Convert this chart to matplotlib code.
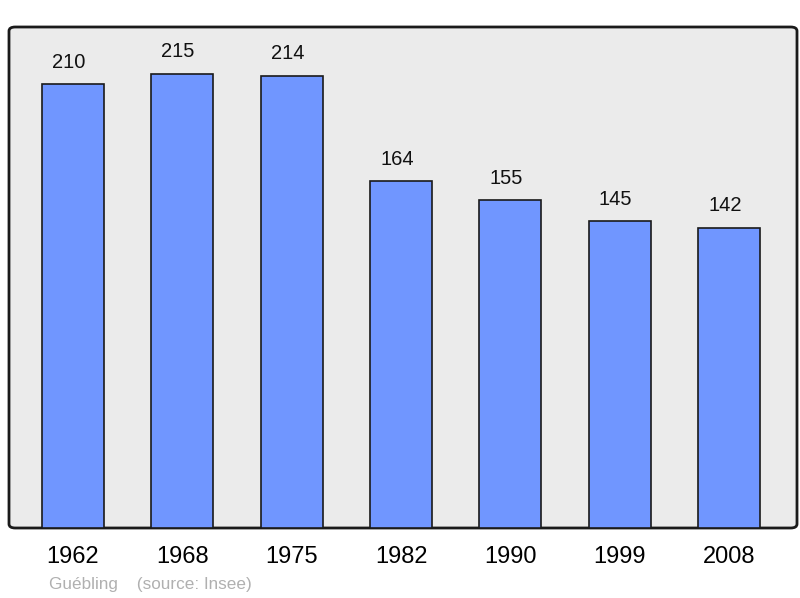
import matplotlib.pyplot as plt
from matplotlib.patches import FancyBboxPatch

years = ["1962", "1968", "1975", "1982", "1990", "1999", "2008"]
population = [210, 215, 214, 164, 155, 145, 142]

plt.rcParams['font.family'] = ['Liberation Sans', 'DejaVu Sans']

fig = plt.figure(figsize=(8, 5.98), dpi=100)
ax = fig.add_axes([9 / 800, 70 / 598, 788 / 800, 501 / 598])

# rounded grey background frame
frame = FancyBboxPatch((0, 0), 1, 1, boxstyle="round,pad=0,rounding_size=0.008",
                       transform=ax.transAxes, facecolor="#ebebeb",
                       edgecolor="#1a1a1a", linewidth=2, zorder=0, clip_on=False)
ax.add_patch(frame)
ax.set_facecolor("none")
for s in ax.spines.values():
    s.set_visible(False)

x = list(range(len(years)))
ax.bar(x, population, width=0.567, color="#7096ff", edgecolor="#1a1a1a",
       linewidth=1.2, zorder=2)

for xi, v in zip(x, population):
    ax.annotate(str(v), (xi, v), xytext=(-3, 9), textcoords="offset points",
                ha="center", va="bottom", fontsize=14.5, color="#111111")

ax.set_xlim(-0.585, 6.62)
ax.set_ylim(0, 237)
ax.set_yticks([])
ax.set_xticks(x)
ax.set_xticklabels(years, fontsize=17)
ax.tick_params(axis="x", length=0, pad=13)

fig.text(49 / 800, 1 - 584 / 598, "Guébling    (source: Insee)", fontsize=12.3,
         color="#b0b0b0", ha="left", va="center")

fig.savefig("out.png", dpi=100)
